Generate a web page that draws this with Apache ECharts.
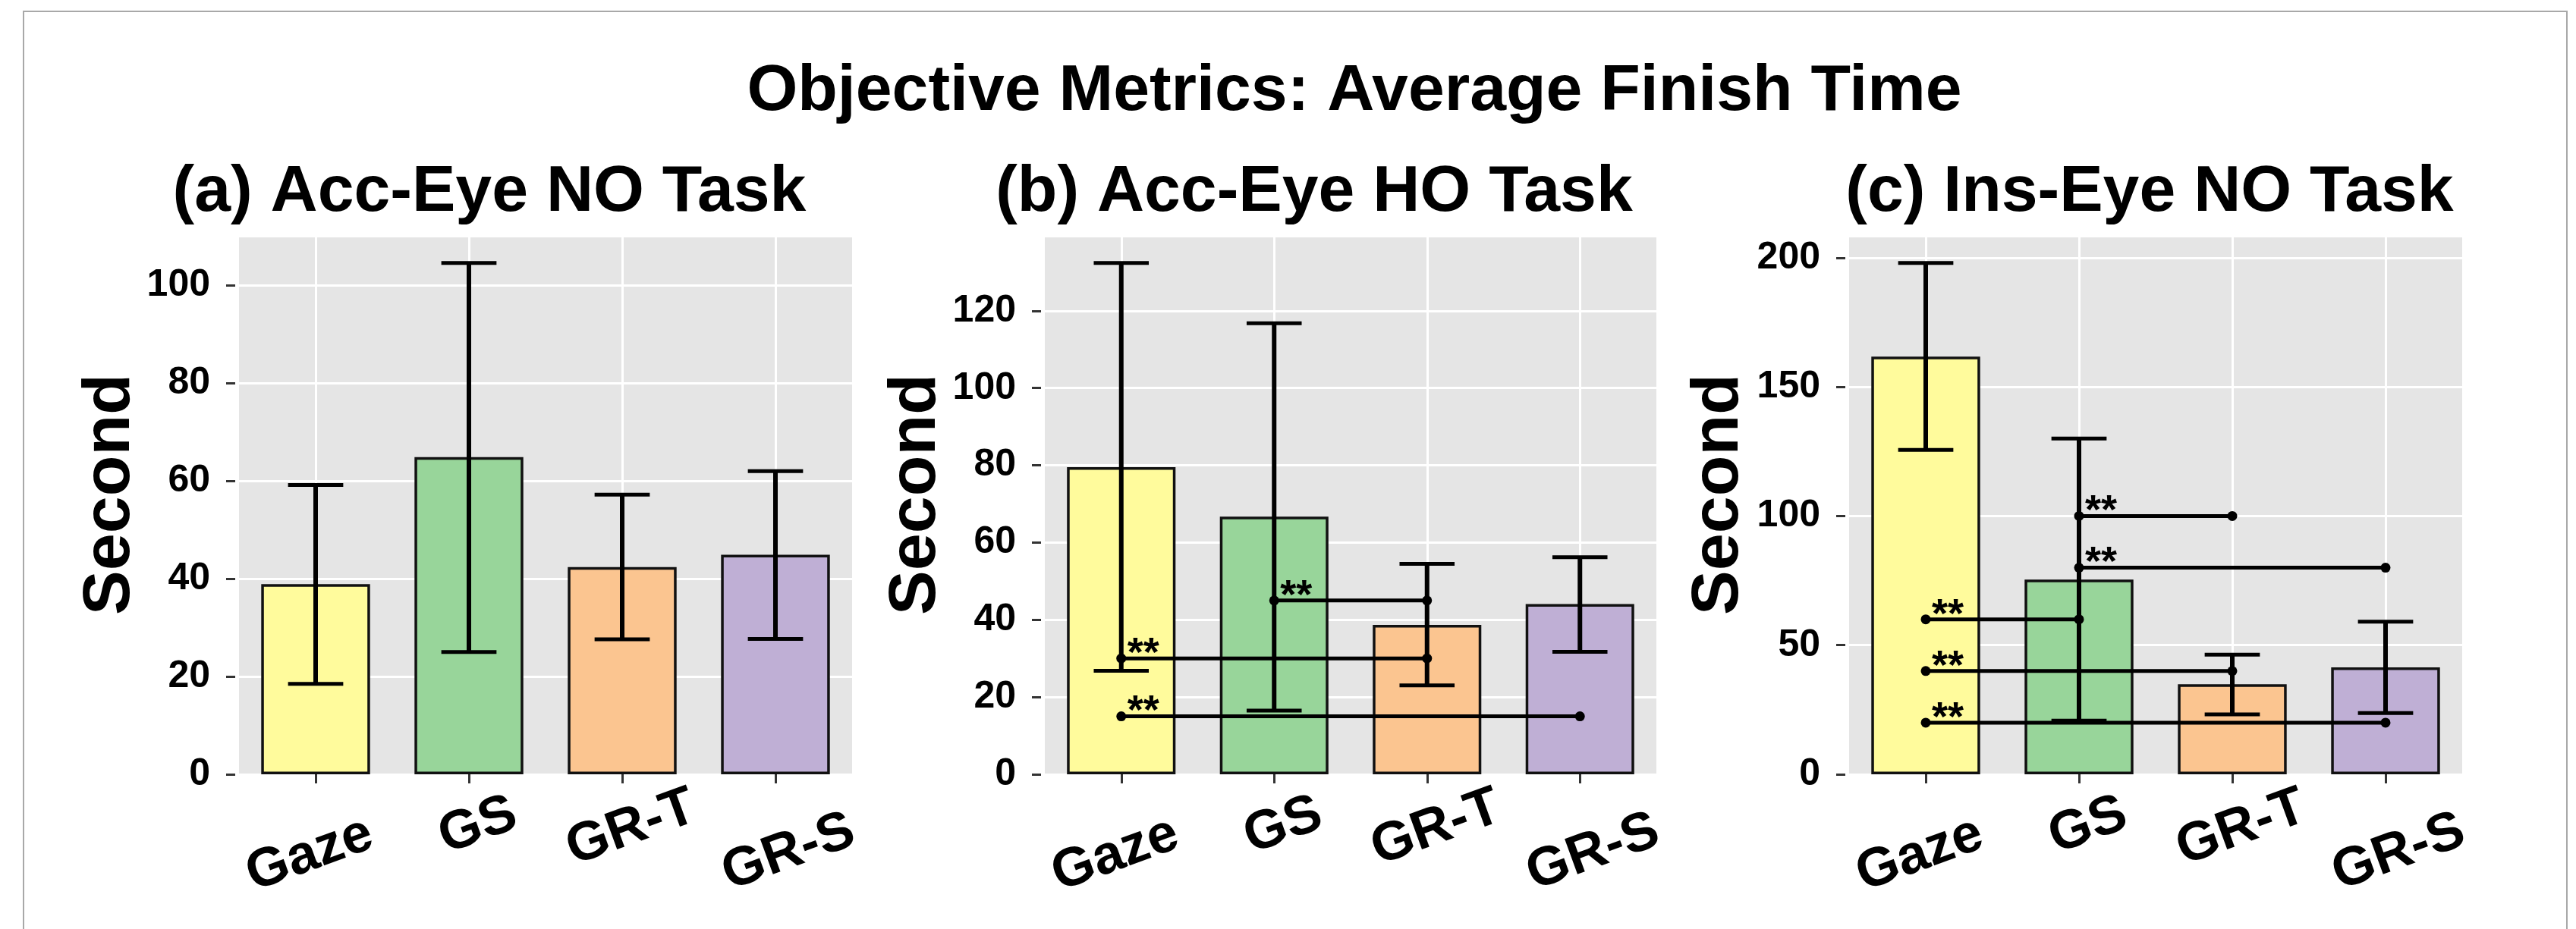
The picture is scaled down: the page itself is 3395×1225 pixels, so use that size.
<!DOCTYPE html>
<html><head><meta charset="utf-8">
<script src="https://cdn.jsdelivr.net/npm/echarts@6/dist/echarts.min.js"></script>
<style>html,body{margin:0;padding:0;background:#fff}#c{width:3395px;height:1225px}</style>
</head><body><div id="c"></div><script>
// ---------- data ----------
const categories = ['Gaze', 'GS', 'GR-T', 'GR-S'];
const barColors = ['#FFFB9C', '#98D59A', '#FBC590', '#BFAFD5'];
const mainTitle = 'Objective Metrics: Average Finish Time';
const panelTitles = ['(a) Acc-Eye NO Task', '(b) Acc-Eye HO Task', '(c) Ins-Eye NO Task'];
const yAxisName = 'Second';

const meanA = [38.9, 64.9, 42.4, 44.9];
const lowerA = [18.5, 25.0, 27.6, 27.7];
const upperA = [59.2, 104.6, 57.2, 62.0];

const meanB = [79.5, 66.7, 38.7, 44.1];
const lowerB = [26.8, 16.5, 23.0, 31.7];
const upperB = [132.4, 116.8, 54.5, 56.2];

const meanC = [161.7, 75.4, 34.9, 41.4];
const lowerC = [125.6, 20.8, 23.2, 23.7];
const upperC = [198.0, 130.0, 46.3, 59.1];

const ticksA = [0, 20, 40, 60, 80, 100];
const ticksB = [0, 20, 40, 60, 80, 100, 120];
const ticksC = [0, 50, 100, 150, 200];

const sigFromA = [], sigToA = [], sigYA = [];
const sigFromB = [1, 0, 0], sigToB = [2, 2, 3], sigYB = [45, 30, 15];
const sigFromC = [1, 1, 0, 0, 0], sigToC = [2, 3, 1, 2, 3], sigYC = [100, 80, 60, 40, 20];
const sigLabel = '**';

// ---------- layout / style ----------
const FONT = '"Liberation Sans", Arial, sans-serif';
// per-label nudges (padding in the rotated label frame: top, right, bottom, left)
const labelPads = [[21, 24, 0, 0], [0, 0, 37, 39], [0, 0, 31, 37], [33, 0, 0, 25]];
const labelRich = {};
labelPads.forEach((pd, k) => {
  labelRich['l' + k] = { fontSize: 72, fontWeight: 'bold', color: '#000', fontFamily: FONT, padding: pd };
});

const panels = [
  { left: 315, width: 808, mean: meanA, lower: lowerA, upper: upperA, ticks: ticksA, sf: sigFromA, st: sigToA, sy: sigYA, tx: 645, gap: 110 },
  { left: 1377, width: 806, mean: meanB, lower: lowerB, upper: upperB, ticks: ticksB, sf: sigFromB, st: sigToB, sy: sigYB, tx: 1732, gap: 119 },
  { left: 2437, width: 808, mean: meanC, lower: lowerC, upper: upperC, ticks: ticksC, sf: sigFromC, st: sigToC, sy: sigYC, tx: 2833, gap: 122 }
];
const TOP = 313, HEIGHT = 708;

const grid = [], xAxis = [], yAxis = [], series = [];
panels.forEach((p, i) => {
  grid.push({ left: p.left, top: TOP, width: p.width, height: HEIGHT, show: true,
    backgroundColor: '#E5E5E5', borderWidth: 0, containLabel: false });
  xAxis.push({
    gridIndex: i, type: 'category', data: categories, offset: 5,
    axisLine: { show: false },
    axisTick: { show: true, alignWithLabel: true, length: 12, lineStyle: { color: '#333', width: 3 } },
    splitLine: { show: true, alignWithLabel: true, lineStyle: { color: '#FFFFFF', width: 3 } },
    axisLabel: { interval: 0, rotate: 20, align: 'center', verticalAlign: 'middle', margin: 87,
      fontSize: 72, fontWeight: 'bold', color: '#000', fontFamily: FONT,
      formatter: (v, k) => '{l' + k + '|' + v + '}', rich: labelRich }
  });
  yAxis.push({
    gridIndex: i, type: 'value', min: 0, max: Math.max(...p.upper) * 1.05, offset: 5,
    axisLine: { show: false },
    axisTick: { show: true, length: 12, customValues: p.ticks, lineStyle: { color: '#333', width: 3 } },
    axisLabel: { customValues: p.ticks, margin: 33, fontSize: 50, fontWeight: 'bold', color: '#000', fontFamily: FONT },
    splitLine: { show: true, lineStyle: { color: '#FFFFFF', width: 3 } },
    name: yAxisName, nameLocation: 'middle', nameRotate: 90, nameGap: p.gap,
    nameTextStyle: { fontSize: 88, fontWeight: 'bold', color: '#000', fontFamily: FONT, padding: [0, 0, 0, 30] }
  });
  series.push({
    type: 'bar', xAxisIndex: i, yAxisIndex: i, barWidth: '71%', z: 2, silent: true,
    itemStyle: { borderColor: '#111', borderWidth: 3.5 },
    data: p.mean.map((v, k) => ({ value: v, itemStyle: { color: barColors[k] } }))
  });
  series.push({
    type: 'custom', xAxisIndex: i, yAxisIndex: i, z: 3, silent: true,
    data: categories.map((c, k) => [k, p.lower[k], p.upper[k]]),
    renderItem: function (params, api) {
      const lo = api.coord([api.value(0), api.value(1)]);
      const hi = api.coord([api.value(0), api.value(2)]);
      const hw = api.size([1, 0])[0] * 0.18;
      const cap = { stroke: '#000', lineWidth: 5 };
      return { type: 'group', children: [
        { type: 'line', shape: { x1: lo[0], y1: lo[1], x2: hi[0], y2: hi[1] }, style: { stroke: '#000', lineWidth: 6 } },
        { type: 'line', shape: { x1: lo[0] - hw, y1: lo[1], x2: lo[0] + hw, y2: lo[1] }, style: cap },
        { type: 'line', shape: { x1: hi[0] - hw, y1: hi[1], x2: hi[0] + hw, y2: hi[1] }, style: cap }
      ] };
    }
  });
  if (p.sf.length) {
    series.push({
      type: 'custom', xAxisIndex: i, yAxisIndex: i, z: 4, silent: true,
      data: p.sf.map((f, k) => [f, p.st[k], p.sy[k]]),
      renderItem: function (params, api) {
        const a = api.coord([api.value(0), api.value(2)]);
        const b = api.coord([api.value(1), api.value(2)]);
        return { type: 'group', children: [
          { type: 'line', shape: { x1: a[0], y1: a[1], x2: b[0], y2: b[1] }, style: { stroke: '#000', lineWidth: 5 } },
          { type: 'circle', shape: { cx: a[0], cy: a[1], r: 6.5 }, style: { fill: '#000' } },
          { type: 'circle', shape: { cx: b[0], cy: b[1], r: 6.5 }, style: { fill: '#000' } },
          { type: 'text', x: a[0] + 8, y: a[1] - 5,
            style: { text: sigLabel, fill: '#000', font: 'bold 54px ' + FONT, textAlign: 'left', textVerticalAlign: 'middle' } }
        ] };
      }
    });
  }
});

const graphic = [
  { type: 'rect', shape: { x: 31, y: 15, width: 3352, height: 1300 }, style: { fill: 'none', stroke: '#A8A8A8', lineWidth: 2 }, z: -10 },
  { type: 'text', x: 1785, y: 121, style: { text: mainTitle, fill: '#000', font: 'bold 86px ' + FONT, textAlign: 'center', textVerticalAlign: 'middle' } }
];
panels.forEach((p, i) => {
  graphic.push({ type: 'text', x: p.tx, y: 254, style: { text: panelTitles[i], fill: '#000', font: 'bold 86px ' + FONT, textAlign: 'center', textVerticalAlign: 'middle' } });
});

const chart = echarts.init(document.getElementById('c'), null, { renderer: 'canvas' });
chart.setOption({ animation: false, backgroundColor: '#FFFFFF', grid, xAxis, yAxis, series, graphic });
</script></body></html>
